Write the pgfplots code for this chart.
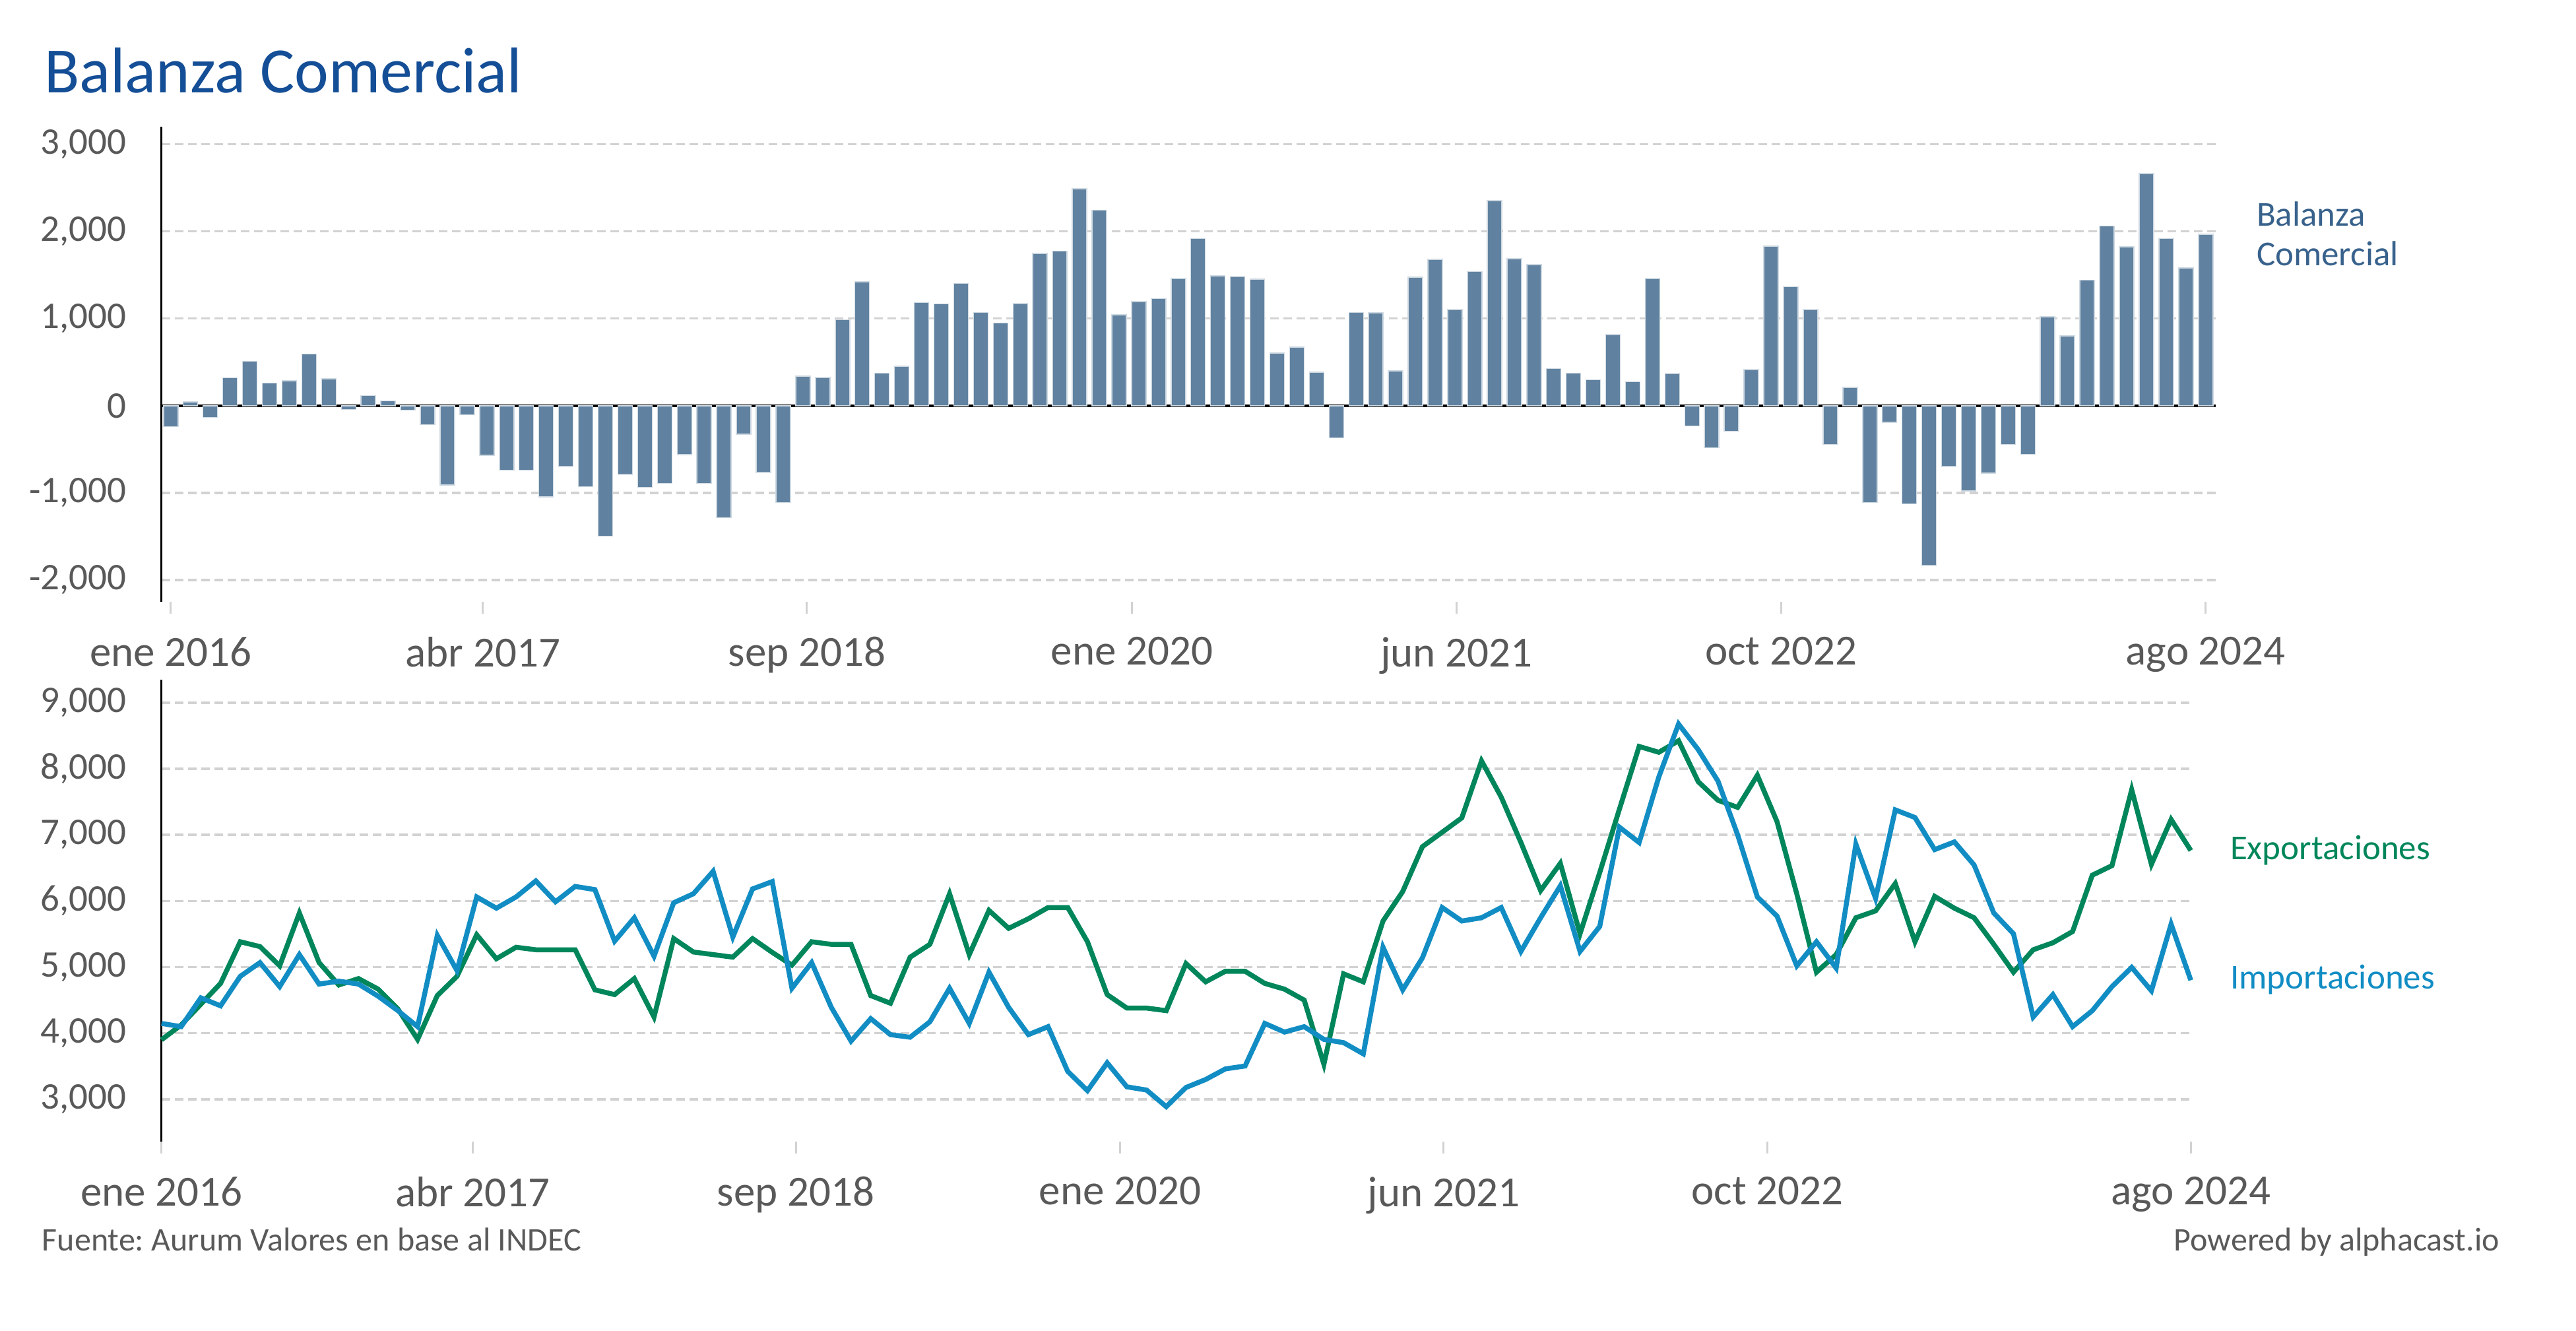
\documentclass[border=0pt]{standalone}
\usepackage{fontspec}
\setmainfont{Carlito}
\usepackage{pgfplots}
\pgfplotsset{compat=1.18}
\usepackage{pgfplotstable}
\frenchspacing

\definecolor{titleblue}{RGB}{20,78,150}
\definecolor{barblue}{RGB}{96,130,160}
\definecolor{barlab}{RGB}{56,98,140}
\definecolor{expgreen}{RGB}{0,134,90}
\definecolor{impblue}{RGB}{18,141,196}
\definecolor{gridgray}{RGB}{210,210,210}
\definecolor{ticklab}{RGB}{89,89,89}

\pgfplotstableread{
i v
0 -239
1 44
2 -136
3 319
4 510
5 261
6 286
7 591
8 308
9 -44
10 117
11 55
12 -51
13 -217
14 -910
15 -103
16 -569
17 -741
18 -741
19 -1046
20 -697
21 -928
22 -1497
23 -789
24 -936
25 -892
26 -561
27 -892
28 -1284
29 -327
30 -767
31 -1112
32 338
33 323
34 987
35 1420
36 374
37 451
38 1182
39 1167
40 1402
41 1068
42 950
43 1171
44 1747
45 1772
46 2488
47 2242
48 1042
49 1193
50 1229
51 1461
52 1916
53 1490
54 1482
55 1453
56 602
57 672
58 385
59 -367
60 1068
61 1064
62 400
63 1475
64 1677
65 1105
66 1538
67 2352
68 1688
69 1618
70 426
71 374
72 297
73 815
74 275
75 1461
76 371
77 -231
78 -481
79 -294
80 415
81 1831
82 1365
83 1105
84 -444
85 209
86 -1112
87 -191
88 -1127
89 -1835
90 -697
91 -980
92 -774
93 -444
94 -558
95 1020
96 800
97 1442
98 2062
99 1824
100 2661
101 1916
102 1582
103 1967
}\balanza

\pgfplotstableread{
i exp imp
0 3900 4148
1 4124 4099
2 4438 4535
3 4753 4414
4 5383 4860
5 5310 5068
6 5019 4705
7 5818 5189
8 5068 4743
9 4729 4787
10 4826 4743
11 4666 4559
12 4366 4341
13 3906 4099
14 4569 5479
15 4860 4947
16 5489 6061
17 5126 5891
18 5300 6061
19 5262 6303
20 5262 5988
21 5262 6220
22 4656 6172
23 4584 5392
24 4826 5746
25 4245 5165
26 5431 5973
27 5228 6109
28 5189 6448
29 5150 5455
30 5431 6182
31 5223 6293
32 5029 4680
33 5383 5068
34 5344 4390
35 5344 3881
36 4569 4220
37 4453 3978
38 5150 3939
39 5344 4172
40 6109 4680
41 5189 4148
42 5857 4923
43 5586 4390
44 5731 3978
45 5901 4099
46 5901 3421
47 5383 3131
48 4584 3552
49 4380 3189
50 4380 3140
51 4341 2889
52 5053 3179
53 4777 3300
54 4937 3460
55 4937 3504
56 4753 4148
57 4666 4017
58 4501 4099
59 3530 3906
60 4898 3857
61 4777 3688
62 5697 5300
63 6143 4656
64 6821 5140
65 7039 5901
66 7257 5697
67 8119 5746
68 7571 5901
69 6884 5237
70 6157 5746
71 6569 6230
72 5504 5237
73 6430 5615
74 7390 7116
75 8337 6884
76 8249 7877
77 8424 8676
78 7804 8288
79 7523 7814
80 7416 7000
81 7901 6061
82 7199 5770
83 6109 5019
84 4923 5383
85 5189 4985
86 5746 6860
87 5850 6040
88 6264 7378
89 5383 7262
90 6070 6777
91 5891 6893
92 5746 6545
93 5344 5818
94 4923 5504
95 5262 4245
96 5368 4584
97 5538 4099
98 6390 4341
99 6535 4705
100 7683 4995
101 6554 4642
102 7232 5650
103 6763 4801
}\comercio

\pgfplotsset{
  base/.style={
    scale only axis,
    axis x line*=bottom,
    axis y line*=left,
    x axis line style={draw=none},
    y axis line style={black, line width=0.35pt},
    ymajorgrids,
    grid style={gridgray, line width=0.35pt, dash pattern=on 1.3pt off 0.7pt},
    ytick style={draw=none},
    xtick style={gridgray, line width=0.3pt},
    major tick length=1.8pt,
    tick align=outside,
    xtick={0,15.8,32.2,48.65,65.08,81.5,103},
    xticklabels={ene 2016,abr 2017,sep 2018,ene 2020,jun 2021,oct 2022,ago 2024},
    xticklabel style={font=\fontsize{6.5}{7}\selectfont, text=ticklab},
    yticklabel style={font=\fontsize{5.7}{6}\selectfont, text=ticklab},
    /pgf/number format/assume math mode=true,
    /pgf/number format/1000 sep={,},
  },
}

\begin{document}
\begin{tikzpicture}
\useasboundingbox (0,0) rectangle (390.4pt,201.6pt);

\begin{axis}[base,
  at={(24.47pt,110.4pt)}, anchor=south west,
  width=311.3pt, height=72pt,
  xmin=-0.47, xmax=103.5,
  ymin=-2250, ymax=3200,
  ytick={-2000,-1000,0,1000,2000,3000},
  extra y ticks={0},
  extra y tick labels={},
  extra y tick style={grid style={black, solid, line width=0.4pt}},
]
\addplot[ybar, bar width=2.2pt, fill=barblue, draw=white!70!barblue, line width=0.15pt] table[x=i,y=v]{\balanza};
\end{axis}

\begin{axis}[base,
  at={(24.47pt,28.6pt)}, anchor=south west,
  width=307.55pt, height=70.03pt,
  xmin=0, xmax=103,
  ymin=2360, ymax=9350,
  ytick={3000,4000,5000,6000,7000,8000,9000},
  clip=false,
]
\addplot[expgreen, line width=0.75pt, mark=none] table[x=i,y=exp]{\comercio};
\addplot[impblue, line width=0.75pt, mark=none] table[x=i,y=imp]{\comercio};
\end{axis}

\node[anchor=base west, inner sep=0, font=\fontsize{9.8}{11}\selectfont, text=titleblue] at (6.5pt,187.6pt) {Balanza Comercial};
\node[anchor=base west, inner sep=0, font=\fontsize{5.3}{6}\selectfont, text=barlab] at (341.8pt,167.4pt) {Balanza};
\node[anchor=base west, inner sep=0, font=\fontsize{5.3}{6}\selectfont, text=barlab] at (341.8pt,161.4pt) {Comercial};
\node[anchor=base west, inner sep=0, font=\fontsize{5.3}{6}\selectfont, text=expgreen] at (337.8pt,71.4pt) {Exportaciones};
\node[anchor=base west, inner sep=0, font=\fontsize{5.3}{6}\selectfont, text=impblue] at (337.8pt,51.8pt) {Importaciones};
\node[anchor=base west, inner sep=0, font=\fontsize{5}{6}\selectfont, text=ticklab] at (6.2pt,12.1pt) {Fuente: Aurum Valores en base al INDEC};
\node[anchor=base east, inner sep=0, font=\fontsize{5}{6}\selectfont, text=ticklab] at (379pt,12.1pt) {Powered by alphacast.io};
\end{tikzpicture}
\end{document}
